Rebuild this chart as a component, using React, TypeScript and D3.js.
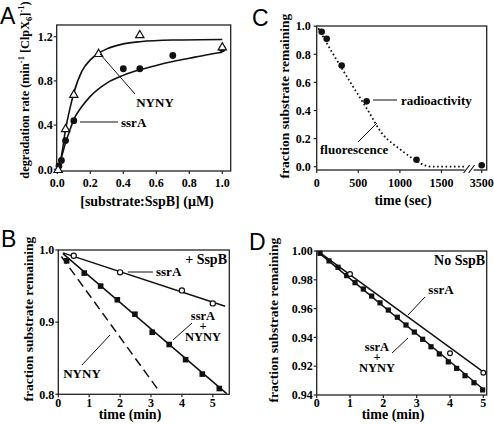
import React from 'react';
import * as d3 from 'd3';

const SERIF = "Liberation Serif, Times New Roman, serif";
const SANS = "Liberation Sans, Arial, sans-serif";

// ---------- Panel A ----------
const aSsrAConc = [0.01, 0.025, 0.05, 0.1, 0.4, 0.5, 0.7, 1.0];
const aSsrARate = [0.03, 0.08, 0.26, 0.44, 0.91, 0.91, 1.03, 1.09];
const aNynyConc = [0.005, 0.05, 0.1, 0.25, 0.5, 1.0];
const aNynyRate = [0.0, 0.37, 0.68, 1.05, 1.22, 1.11];
const aSsrAFitConc = [0, 0.01, 0.025, 0.05, 0.075, 0.1, 0.15, 0.2, 0.3, 0.4, 0.5, 0.6, 0.7, 0.8, 0.9, 1.0];
const aSsrAFitRate = [0, 0.04, 0.11, 0.24, 0.35, 0.45, 0.57, 0.66, 0.78, 0.85, 0.9, 0.94, 0.975, 1.005, 1.035, 1.06];
const aNynyFitConc = [0, 0.01, 0.025, 0.05, 0.075, 0.1, 0.15, 0.2, 0.25, 0.3, 0.4, 0.5, 0.7, 1.0];
const aNynyFitRate = [0, 0.02, 0.12, 0.36, 0.54, 0.69, 0.89, 0.99, 1.05, 1.09, 1.135, 1.155, 1.17, 1.175];
const aXTicks = [0, 0.2, 0.4, 0.6, 0.8, 1.0];
const aXTickLabels = ['0.0', '0.2', '0.4', '0.6', '0.8', '1.0'];
const aYTicks = [0, 0.4, 0.8, 1.2];
const aYTickLabels = ['0.0', '0.4', '0.8', '1.2'];

// ---------- Panel C ----------
const cRadioTime = [60, 120, 300, 600, 1200, 3500];
const cRadioFrac = [0.96, 0.91, 0.72, 0.465, 0.05, 0.01];
const cFluorTime = [20, 100, 200, 400, 600, 800, 900, 1000, 1100, 1200, 1300, 1400, 1780];
const cFluorFrac = [0.985, 0.9, 0.8, 0.605, 0.416, 0.226, 0.17, 0.125, 0.08, 0.04, 0.01, 0.0, 0.0];
const cXTicks = [0, 500, 1000, 1500, 3500];
const cXTickLabels = ['0', '500', '1000', '1500', '3500'];
const cYTicks = [0, 0.2, 0.4, 0.6, 0.8, 1.0];
const cYTickLabels = ['0.0', '0.2', '0.4', '0.6', '0.8', '1.0'];

// ---------- Panel B ----------
const bSsrATime = [0.5, 2, 4, 5];
const bSsrAFrac = [0.992, 0.969, 0.944, 0.926];
const bBothTime = [0.27, 0.84, 1.37, 1.91, 2.48, 3.04, 3.59, 4.12, 4.66, 5.21];
const bBothFrac = [0.985, 0.968, 0.95, 0.931, 0.911, 0.886, 0.869, 0.848, 0.828, 0.808];
const bSsrAFitTime = [0.15, 5.4];
const bSsrAFitFrac = [0.996, 0.922];
const bBothFitTime = [0.15, 5.45];
const bBothFitFrac = [0.995, 0.801];
const bNynyFitTime = [0.1, 3.27];
const bNynyFitFrac = [0.991, 0.804];
const bXTicks = [0, 1, 2, 3, 4, 5];
const bYTicks = [0.8, 0.9, 1.0];
const bYTickLabels = ['0.8', '0.9', '1.0'];

// ---------- Panel D ----------
const dSsrATime = [1, 4, 5];
const dSsrAFrac = [0.984, 0.929, 0.9155];
const dBothTime = [0.1, 0.37, 0.64, 0.9, 1.15, 1.4, 1.65, 1.9, 2.15, 2.42, 2.68, 2.93, 3.18, 3.43, 3.68, 3.95, 4.2, 4.45, 4.72, 4.98];
const dBothFrac = [0.9984, 0.9931, 0.9887, 0.9829, 0.978, 0.9736, 0.9687, 0.964, 0.959, 0.954, 0.9486, 0.9437, 0.9387, 0.9335, 0.9285, 0.923, 0.9185, 0.9134, 0.9085, 0.9035];
const dSsrAFitTime = [0.05, 5.0];
const dSsrAFitFrac = [0.9995, 0.916];
const dBothFitTime = [0.05, 5.0];
const dBothFitFrac = [0.999, 0.904];
const dXTicks = [0, 1, 2, 3, 4, 5];
const dYTicks = [1.0, 0.98, 0.96, 0.94, 0.92, 0.9];
const dYTickLabels = ['1.00', '0.98', '0.96', '0.94', '0.92', '0.94'];

type Sc = d3.ScaleLinear<number, number>;

function zip(xs: number[], ys: number[]): [number, number][] {
  return xs.map((x, i) => [x, ys[i]]);
}

function Frame({ x, y, w, h }: { x: number; y: number; w: number; h: number }) {
  return <rect x={x} y={y} width={w} height={h} fill="none" stroke="#222" strokeWidth={1.3} />;
}

function YTicks({ sc, ticks, labels, x, fs = 12, gap = 4 }: { sc: Sc; ticks: number[]; labels: string[]; x: number; fs?: number; gap?: number }) {
  return (
    <g>
      {ticks.map((t, i) => (
        <g key={i}>
          <line x1={x - 3} x2={x} y1={sc(t)} y2={sc(t)} stroke="#222" strokeWidth={1.2} />
          <text x={x - gap} y={sc(t)} dy="0.35em" textAnchor="end" fontFamily={SERIF} fontWeight="bold" fontSize={fs}>
            {labels[i]}
          </text>
        </g>
      ))}
    </g>
  );
}

function XTicks({ sc, ticks, labels, y, fs = 12, baseline }: { sc: Sc; ticks: number[]; labels: string[]; y: number; fs?: number; baseline: number }) {
  return (
    <g>
      {ticks.map((t, i) => (
        <g key={i}>
          <line x1={sc(t)} x2={sc(t)} y1={y} y2={y + 3} stroke="#222" strokeWidth={1.2} />
          <text x={sc(t)} y={baseline} textAnchor="middle" fontFamily={SERIF} fontWeight="bold" fontSize={fs}>
            {labels[i]}
          </text>
        </g>
      ))}
    </g>
  );
}

function YLabel({ x, y, text, fs = 13.5 }: { x: number; y: number; text: React.ReactNode; fs?: number }) {
  return (
    <text transform={`translate(${x},${y}) rotate(-90)`} textAnchor="middle" fontFamily={SERIF} fontWeight="bold" fontSize={fs}>
      {text}
    </text>
  );
}

function Label({ x, y, children, anchor = 'middle', fs = 13 }: { x: number; y: number; children: React.ReactNode; anchor?: string; fs?: number }) {
  return (
    <text x={x} y={y} textAnchor={anchor as any} fontFamily={SERIF} fontWeight="bold" fontSize={fs}>
      {children}
    </text>
  );
}

function Stack({ x, y, fs = 12.5 }: { x: number; y: number; fs?: number }) {
  return (
    <text x={x} y={y} textAnchor="middle" fontFamily={SERIF} fontWeight="bold" fontSize={fs}>
      <tspan x={x} dy={0}>ssrA</tspan>
      <tspan x={x} dy={10}>+</tspan>
      <tspan x={x} dy={11}>NYNY</tspan>
    </text>
  );
}

function Ann({ x1, y1, x2, y2 }: { x1: number; y1: number; x2: number; y2: number }) {
  return <line x1={x1} y1={y1} x2={x2} y2={y2} stroke="#111" strokeWidth={1} />;
}

export default function App() {
  // ----- Panel A -----
  const ax = d3.scaleLinear().domain([0, 1]).range([57.3, 222.3]);
  const ay = d3.scaleLinear().domain([0, 1.2]).range([169.3, 36.7]);
  const aLine = d3.line<[number, number]>().curve(d3.curveMonotoneX).x((d) => ax(d[0])).y((d) => ay(d[1]));
  const aSsrAPath = aLine(zip(aSsrAFitConc, aSsrAFitRate)) || '';
  const aNynyPath = aLine(zip(aNynyFitConc, aNynyFitRate)) || '';
  const tri = d3.symbol().type(d3.symbolTriangle).size(30)() || '';

  // ----- Panel C -----
  const cx = d3.scaleLinear().domain([0, 1790, 3500, 3560]).range([316.7, 465.6, 481.7, 486.7]);
  const cy = d3.scaleLinear().domain([0, 1]).range([166.7, 26.2]);
  const cLine = d3.line<[number, number]>().curve(d3.curveMonotoneX).x((d) => cx(d[0])).y((d) => cy(d[1]));
  const cFluorPath = cLine(zip(cFluorTime, cFluorFrac)) || '';

  // ----- Panel B -----
  const bx = d3.scaleLinear().domain([0, 5]).range([58.3, 212.8]);
  const by = d3.scaleLinear().domain([0.8, 1.0]).range([394.3, 250]);
  const bLine = d3.line<[number, number]>().x((d) => bx(d[0])).y((d) => by(d[1]));

  // ----- Panel D -----
  const dx = d3.scaleLinear().domain([0, 5]).range([316.7, 483.3]);
  const dy = d3.scaleLinear().domain([0.9, 1.0]).range([395, 251]);
  const dLine = d3.line<[number, number]>().x((d) => dx(d[0])).y((d) => dy(d[1]));

  const intLabels = (arr: number[]) => arr.map((v) => String(v));

  return (
    <svg width={494} height={424} style={{ position: 'absolute', left: 0, top: 0, background: '#fff' }}>
      <rect x={0} y={0} width={494} height={424} fill="#fff" />

      {/* ================= Panel A ================= */}
      <text x={0} y={24} fontFamily={SANS} fontSize={23}>A</text>
      <Frame x={56.7} y={25} w={174} h={146} />
      <YTicks sc={ay} ticks={aYTicks} labels={aYTickLabels} x={56.7} />
      <XTicks sc={ax} ticks={aXTicks} labels={aXTickLabels} y={171} baseline={187} />
      <YLabel
        x={29}
        y={90}
        fs={12.3}
        text={
          <>
            degradation rate (min
            <tspan fontSize={8.5} dy={-5}>-1</tspan>
            <tspan dy={5}> [ClpX</tspan>
            <tspan fontSize={8.5} dy={3}>6</tspan>
            <tspan dy={-3}>]</tspan>
            <tspan fontSize={8.5} dy={-5}>-1</tspan>
            <tspan dy={5}>)</tspan>
          </>
        }
      />
      <Label x={147} y={206} fs={14}>[substrate:SspB] (μM)</Label>
      <path d={aNynyPath} fill="none" stroke="#111" strokeWidth={1.6} />
      <path d={aSsrAPath} fill="none" stroke="#111" strokeWidth={1.6} />
      {aSsrAConc.map((c, i) => (
        <circle key={'ac' + i} cx={ax(c)} cy={ay(aSsrARate[i])} r={3.4} fill="#111" />
      ))}
      {aNynyConc.map((c, i) => (
        <path key={'at' + i} d={tri} transform={`translate(${ax(c)},${ay(aNynyRate[i]) + 0.8})`} fill="#fff" stroke="#111" strokeWidth={1.2} />
      ))}
      <Ann x1={100} y1={54} x2={135} y2={94} />
      <Label x={155} y={107} fs={13}>NYNY</Label>
      <Ann x1={80} y1={122} x2={118} y2={122} />
      <Label x={121} y={126.5} anchor="start" fs={13}>ssrA</Label>

      {/* ================= Panel C ================= */}
      <text x={252} y={26} fontFamily={SANS} fontSize={23}>C</text>
      <Frame x={316.7} y={26} w={170} h={144} />
      <YTicks sc={cy} ticks={cYTicks} labels={cYTickLabels} x={316.7} gap={6} />
      <XTicks sc={cx} ticks={cXTicks} labels={cXTickLabels} y={170} baseline={187} />
      <rect x={cx(1790) - 1} y={166} width={9} height={8} fill="#fff" />
      <line x1={cx(1790) - 2} y1={173} x2={cx(1790) + 4} y2={165} stroke="#111" strokeWidth={1.2} />
      <line x1={cx(1790) + 3} y1={173} x2={cx(1790) + 9} y2={165} stroke="#111" strokeWidth={1.2} />
      <YLabel x={289} y={96} fs={13.5} text="fraction substrate remaining" />
      <Label x={403} y={205} fs={14}>time  (sec)</Label>
      <path d={cFluorPath} fill="none" stroke="#111" strokeWidth={1.8} strokeDasharray="1.6 2.6" />
      {cRadioTime.map((t, i) => (
        <circle key={'cr' + i} cx={cx(t)} cy={cy(cRadioFrac[i])} r={3.3} fill="#111" />
      ))}
      <Ann x1={373} y1={100} x2={397} y2={100} />
      <Label x={401} y={104.5} anchor="start" fs={13}>radioactivity</Label>
      <Ann x1={358} y1={142} x2={377} y2={123} />
      <Label x={320} y={154} anchor="start" fs={13}>fluorescence</Label>

      {/* ================= Panel B ================= */}
      <text x={1} y={247} fontFamily={SANS} fontSize={23}>B</text>
      <Frame x={58.3} y={250} w={171} h={144.3} />
      <YTicks sc={by} ticks={bYTicks} labels={bYTickLabels} x={58.3} />
      <XTicks sc={bx} ticks={bXTicks} labels={intLabels(bXTicks)} y={394.3} baseline={407} />
      <YLabel x={33} y={319} fs={13.5} text="fraction substrate remaining" />
      <Label x={130} y={419} fs={14}>time (min)</Label>
      <path d={bLine(zip(bSsrAFitTime, bSsrAFitFrac)) || ''} fill="none" stroke="#111" strokeWidth={1.5} />
      <path d={bLine(zip(bBothFitTime, bBothFitFrac)) || ''} fill="none" stroke="#111" strokeWidth={1.5} />
      <path d={bLine(zip(bNynyFitTime, bNynyFitFrac)) || ''} fill="none" stroke="#111" strokeWidth={1.5} strokeDasharray="9 5" />
      {bBothTime.map((t, i) => (
        <rect key={'bs' + i} x={bx(t) - 2.8} y={by(bBothFrac[i]) - 2.8} width={5.6} height={5.6} fill="#111" />
      ))}
      {bSsrATime.map((t, i) => (
        <circle key={'bc' + i} cx={bx(t)} cy={by(bSsrAFrac[i])} r={2.6} fill="#fff" stroke="#111" strokeWidth={1.2} />
      ))}
      <Label x={227} y={264} anchor="end" fs={14}>+ SspB</Label>
      <Ann x1={128} y1={272} x2={153} y2={272} />
      <Label x={156} y={276} anchor="start" fs={13}>ssrA</Label>
      <Stack x={203} y={320} />
      <Ann x1={173} y1={340} x2={192} y2={323} />
      <Ann x1={82} y1={365} x2={110} y2={335} />
      <Label x={82} y={378} fs={13}>NYNY</Label>

      {/* ================= Panel D ================= */}
      <text x={249} y={250} fontFamily={SANS} fontSize={23}>D</text>
      <Frame x={316.7} y={251} w={170} h={144} />
      <YTicks sc={dy} ticks={dYTicks} labels={dYTickLabels} x={316.7} />
      <XTicks sc={dx} ticks={dXTicks} labels={intLabels(dXTicks)} y={395} baseline={407} />
      <YLabel x={278} y={320} fs={13.5} text="fraction substrate remaining" />
      <Label x={393} y={419} fs={14}>time (min)</Label>
      <path d={dLine(zip(dSsrAFitTime, dSsrAFitFrac)) || ''} fill="none" stroke="#111" strokeWidth={1.5} />
      <path d={dLine(zip(dBothFitTime, dBothFitFrac)) || ''} fill="none" stroke="#111" strokeWidth={1.5} />
      {dBothTime.map((t, i) => (
        <rect key={'ds' + i} x={dx(t) - 2.6} y={dy(dBothFrac[i]) - 2.6} width={5.2} height={5.2} fill="#111" />
      ))}
      {dSsrATime.map((t, i) => (
        <circle key={'dc' + i} cx={dx(t)} cy={dy(dSsrAFrac[i])} r={2.4} fill="#fff" stroke="#111" strokeWidth={1.2} />
      ))}
      <Label x={485} y={265} anchor="end" fs={14}>No SspB</Label>
      <Label x={441} y={294} fs={13}>ssrA</Label>
      <Ann x1={408} y1={315} x2={425} y2={297} />
      <Stack x={377} y={351} />
      <Ann x1={392} y1={353} x2={408} y2={338} />
    </svg>
  );
}
